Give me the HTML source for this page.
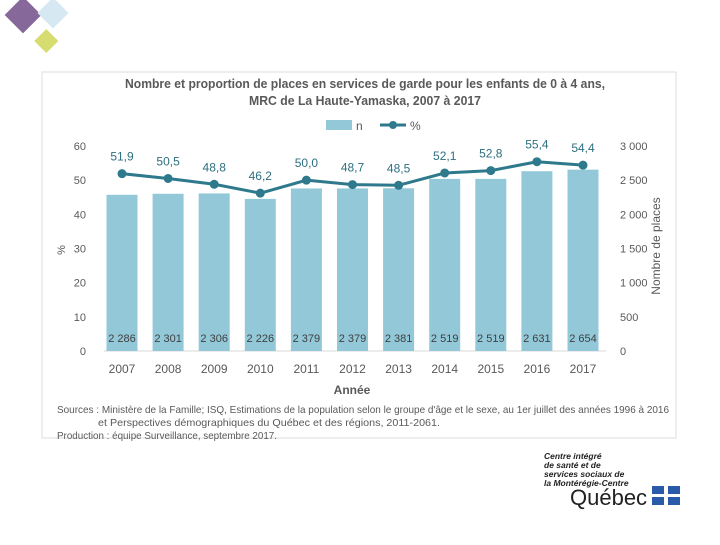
<!DOCTYPE html>
<html><head><meta charset="utf-8"><style>
body{margin:0;width:720px;height:540px;background:#fff;overflow:hidden;font-family:"Liberation Sans",sans-serif}
svg text{font-family:"Liberation Sans",sans-serif}
</style></head><body>
<svg width="720" height="540" viewBox="0 0 720 540">
<g>
<rect x="10" y="2" width="26" height="26" fill="#86689a" transform="rotate(45 23 15)"/>
<rect x="42" y="2" width="22" height="22" fill="#d6e8f1" transform="rotate(45 53 13)"/>
<rect x="38" y="33" width="17" height="17" fill="#d7dc70" transform="rotate(45 47 41)"/>
</g>
<rect x="42" y="72" width="634" height="366" fill="#fff" stroke="#ddd"/>
<text x="125" y="88" font-size="13" font-weight="bold" fill="#595959" textLength="480" lengthAdjust="spacingAndGlyphs">Nombre et proportion de places en services de garde pour les enfants de 0 à 4 ans,</text>
<text x="249" y="105" font-size="13" font-weight="bold" fill="#595959" textLength="232" lengthAdjust="spacingAndGlyphs">MRC de La Haute-Yamaska, 2007 à 2017</text>
<g>
<rect x="326" y="120" width="26" height="10" fill="#92c8d8"/>
<text x="356" y="130" font-size="12" fill="#595959">n</text>
<line x1="380" y1="125" x2="406" y2="125" stroke="#2e7a8c" stroke-width="3"/>
<circle cx="393" cy="125" r="4" fill="#2e7a8c"/>
<text x="410" y="130" font-size="12" fill="#595959">%</text>
</g>
<g id="plot"></g>
<text x="352" y="394" text-anchor="middle" font-size="12" font-weight="bold" fill="#595959">Année</text>
<text x="65" y="250" text-anchor="middle" font-size="11" fill="#595959" transform="rotate(-90 65 250)">%</text>
<text x="660" y="246" text-anchor="middle" font-size="12" fill="#595959" transform="rotate(-90 660 246)">Nombre de places</text>
<g font-size="10.5" fill="#595959">
<text x="57" y="413" textLength="612" lengthAdjust="spacingAndGlyphs">Sources : Ministère de la Famille; ISQ, Estimations de la population selon le groupe d'âge et le sexe, au 1er juillet des années 1996 à 2016</text>
<text x="98" y="426" textLength="342" lengthAdjust="spacingAndGlyphs">et Perspectives démographiques du Québec et des régions, 2011-2061.</text>
<text x="57" y="439" textLength="220" lengthAdjust="spacingAndGlyphs">Production : équipe Surveillance, septembre 2017.</text>
</g>
<g>
<text x="544" y="459" font-size="8.5" font-weight="bold" font-style="italic" fill="#222">Centre intégré</text>
<text x="544" y="468" font-size="8.5" font-weight="bold" font-style="italic" fill="#222">de santé et de</text>
<text x="544" y="477" font-size="8.5" font-weight="bold" font-style="italic" fill="#222">services sociaux de</text>
<text x="544" y="486" font-size="8.5" font-weight="bold" font-style="italic" fill="#222">la Montérégie-Centre</text>
<text x="570" y="505" font-size="22" fill="#222">Québec</text>
<rect x="652" y="486" width="12" height="8" fill="#2a5ba8"/><rect x="668" y="486" width="12" height="8" fill="#2a5ba8"/>
<rect x="652" y="497" width="12" height="8" fill="#2a5ba8"/><rect x="668" y="497" width="12" height="8" fill="#2a5ba8"/>
</g>
</svg>
<script>
const years=['2007','2008','2009','2010','2011','2012','2013','2014','2015','2016','2017'];
const places=[2286,2301,2306,2226,2379,2379,2381,2519,2519,2631,2654];
const pct=[51.9,50.5,48.8,46.2,50.0,48.7,48.5,52.1,52.8,55.4,54.4];
const leftTicks=[0,10,20,30,40,50,60];
const rightTicks=[0,500,1000,1500,2000,2500,3000];
const NS='http://www.w3.org/2000/svg';
const g=document.getElementById('plot');
const y0=351,yTop=146;
const yPct=v=>y0-(v/60)*(y0-yTop);
const yN=v=>y0-(v/3000)*(y0-yTop);
const xC=i=>122+i*46.1;
const fmt=n=>String(n).replace(/\B(?=(\d{3})+(?!\d))/g,' ');
function mk(t,a,txt){const e=document.createElementNS(NS,t);for(const k in a)e.setAttribute(k,a[k]);if(txt!==undefined)e.textContent=txt;g.appendChild(e);return e;}
leftTicks.forEach(v=>{const e=mk('text',{x:86,y:yPct(v)+4,'text-anchor':'end','font-size':11,fill:'#595959'},v);

});
rightTicks.forEach(v=>{const e=mk('text',{x:620,y:yN(v)+4,'font-size':11,fill:'#595959'},fmt(v));

});
const ax=mk('line',{x1:104,y1:y0,x2:606,y2:y0,stroke:'#d9d9d9'});


years.forEach((yr,i)=>{
 const b=mk('rect',{x:xC(i)-15.5,y:yN(places[i]),width:31,height:y0-yN(places[i]),fill:'#92c8d8'});
 
 
 const bl=mk('text',{x:xC(i),y:y0-9,'text-anchor':'middle','font-size':11,fill:'#404040'},fmt(places[i]));
 
 
 const xl=mk('text',{x:xC(i),y:373,'text-anchor':'middle','font-size':12,fill:'#595959'},yr);
 
 
});
const ln=mk('polyline',{points:pct.map((v,i)=>xC(i)+','+yPct(v)).join(' '),fill:'none',stroke:'#2e7a8c','stroke-width':3});


pct.forEach((v,i)=>{
 const c=mk('circle',{cx:xC(i),cy:yPct(v),r:4.5,fill:'#2e7a8c'});
 
 
 const t=mk('text',{x:xC(i),y:yPct(v)-13,'text-anchor':'middle','font-size':12,fill:'#2e6f80'},v.toFixed(1).replace('.',','));
 
 
});
</script>
</body></html>
